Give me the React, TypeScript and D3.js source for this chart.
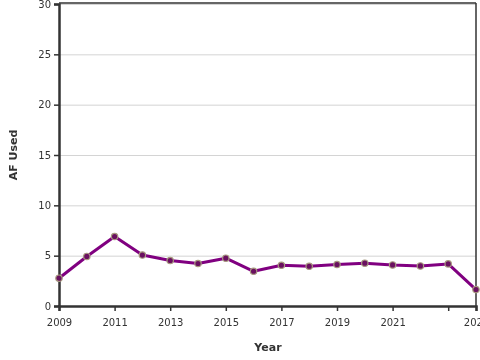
import React, { useEffect, useRef } from 'react';
import * as d3 from 'd3';

const years = [2009, 2010, 2011, 2012, 2013, 2014, 2015, 2016, 2017, 2018, 2019, 2020, 2021, 2022, 2023, 2024];
const afUsed = [2.76, 4.92, 6.9, 5.06, 4.52, 4.22, 4.75, 3.45, 4.05, 3.95, 4.12, 4.25, 4.08, 3.98, 4.18, 1.63];
const xTicks = [2009, 2011, 2013, 2015, 2017, 2019, 2021, 2023, 2024];
const yTicks = [0, 5, 10, 15, 20, 25, 30];

const App = () => {
  const ref = useRef<SVGSVGElement | null>(null);

  useEffect(() => {
    const svg = d3.select(ref.current);
    svg.selectAll('*').remove();

    const margin = { top: 4, right: 4, bottom: 54, left: 59 };
    const width = 480 - margin.left - margin.right;
    const height = 360 - margin.top - margin.bottom;

    const g = svg.append('g').attr('transform', `translate(${margin.left},${margin.top})`);

    const x = d3.scaleLinear().domain([2009, 2024]).range([0, width]);
    const y = d3.scaleLinear().domain([0, 30]).range([height, 0]);

    // grid lines
    g.append('g')
      .selectAll('line')
      .data(yTicks)
      .join('line')
      .attr('x1', 0)
      .attr('x2', width)
      .attr('y1', d => y(d) + 0.5)
      .attr('y2', d => y(d) + 0.5)
      .attr('stroke', '#d4d4d4')
      .attr('stroke-width', 1);

    // frame top / right
    g.append('line')
      .attr('x1', 0).attr('x2', width)
      .attr('y1', -1).attr('y2', -1)
      .attr('stroke', '#333').attr('stroke-width', 1.5);
    g.append('line')
      .attr('x1', width).attr('x2', width)
      .attr('y1', -1).attr('y2', height)
      .attr('stroke', '#333').attr('stroke-width', 1.5);

    const xAxis = g.append('g')
      .attr('transform', `translate(0,${height})`)
      .call(
        d3.axisBottom(x)
          .tickValues(xTicks)
          .tickSize(5)
          .tickFormat(d => (d === 2023 ? '' : String(d)))
      );
    xAxis.select('.domain').attr('stroke', '#333').attr('stroke-width', 2.5);
    xAxis.selectAll('.tick line').attr('stroke', '#333').attr('stroke-width', 1.5);
    xAxis.selectAll('.tick text')
      .attr('dy', '1.2em')
      .attr('fill', '#333')
      .style('font-family', 'DejaVu Sans')
      .style('font-size', '10px');

    const yAxis = g.append('g')
      .call(d3.axisLeft(y).tickValues(yTicks).tickSize(5).tickPadding(3));
    yAxis.select('.domain').attr('stroke', '#333').attr('stroke-width', 2.5);
    yAxis.selectAll('.tick line').attr('stroke', '#333').attr('stroke-width', 1.5);
    yAxis.selectAll('.tick text')
      .attr('fill', '#333')
      .style('font-family', 'DejaVu Sans')
      .style('font-size', '10px');

    // axis titles
    g.append('text')
      .attr('x', 268 - margin.left)
      .attr('y', height + 45)
      .attr('text-anchor', 'middle')
      .style('font-family', 'DejaVu Sans')
      .style('font-size', '11px')
      .style('font-weight', 'bold')
      .attr('fill', '#333')
      .text('Year');

    g.append('text')
      .attr('transform', `translate(${17 - margin.left},${height / 2}) rotate(-90)`)
      .attr('text-anchor', 'middle')
      .style('font-family', 'DejaVu Sans')
      .style('font-size', '11px')
      .style('font-weight', 'bold')
      .attr('fill', '#333')
      .text('AF Used');

    const data = years.map((yr, i) => [yr, afUsed[i]] as [number, number]);

    const line = d3.line<[number, number]>()
      .x(d => x(d[0]))
      .y(d => y(d[1]));

    g.append('path')
      .datum(data)
      .attr('fill', 'none')
      .attr('stroke', '#800080')
      .attr('stroke-width', 3)
      .attr('stroke-linejoin', 'round')
      .attr('d', line);

    g.append('g')
      .selectAll('circle')
      .data(data)
      .join('circle')
      .attr('cx', d => x(d[0]))
      .attr('cy', d => y(d[1]))
      .attr('r', 3.2)
      .attr('fill', '#6a1060')
      .attr('stroke', '#a89a80')
      .attr('stroke-width', 1.2);
  }, []);

  return (
    <div style={{ position: 'fixed', left: 0, top: 0, width: 480, height: 360, overflow: 'hidden' }}>
      <svg ref={ref} width={480} height={360} style={{ display: 'block', overflow: 'hidden' }} />
    </div>
  );
};

export default App;
